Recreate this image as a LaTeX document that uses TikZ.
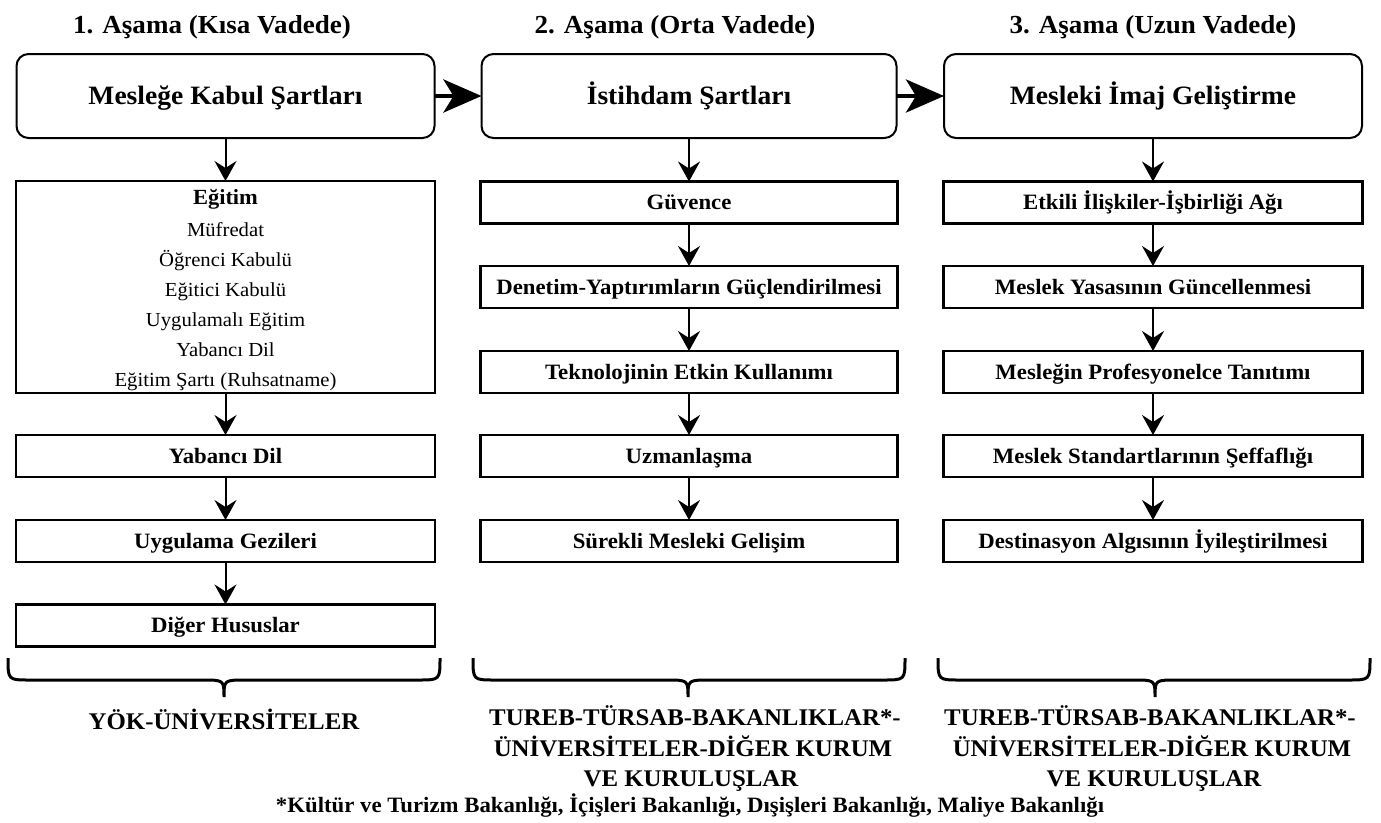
\documentclass[tikz,border=0pt]{standalone}
\usepackage{fontspec}
\setmainfont{Liberation Serif}[FakeStretch=1.04]
\usetikzlibrary{arrows.meta}
\begin{document}
\begin{tikzpicture}[x=1pt,y=-1pt,
  every node/.style={inner sep=0pt, outer sep=0pt},
  topbox/.style={draw, line width=2pt, rounded corners=12pt, minimum height=84pt,
    font=\bfseries\fontsize{26.5}{30}\selectfont, text height=17.5pt, text depth=0pt},
  itembox/.style={draw, line width=2.4pt, minimum height=42pt,
    font=\bfseries\fontsize{21.9}{25}\selectfont, text height=14.5pt, text depth=0pt},
  hdr/.style={font=\bfseries\fontsize{26}{30}\selectfont, anchor=base},
  lst/.style={font=\fontsize{19.9}{23}\selectfont, anchor=base},
  lsttitle/.style={font=\bfseries\fontsize{21.6}{25}\selectfont, anchor=base},
  lbl/.style={font=\bfseries\fontsize{23.9}{31}\selectfont, anchor=base},
  foot/.style={font=\bfseries\fontsize{21.9}{25}\selectfont, anchor=base},
  down/.style={-{Stealth[length=20pt,width=22pt,inset=7pt]}, line width=2pt},
  bigarrow/.style={-{Stealth[length=38pt,width=33pt,inset=10pt]}, line width=4.5pt},
  brc/.style={line width=3pt}
]
\useasboundingbox (0,0) rectangle (1381,822);

% headers
\node[hdr] (h1) at (212,33) {1. Aşama (Kısa Vadede)};
\node[hdr] (h2) at (675,33) {2. Aşama (Orta Vadede)};
\node[hdr] (h3) at (1153,33) {3. Aşama (Uzun Vadede)};

% top boxes
\node[topbox, minimum width=418pt] (t1) at (225.5,96) {Mesleğe Kabul Şartları};
\node[topbox, minimum width=415pt] (t2) at (689,96) {İstihdam Şartları};
\node[topbox, minimum width=418pt] (t3) at (1153,96) {Mesleki İmaj Geliştirme};

\draw[bigarrow] (t1) -- (t2);
\draw[bigarrow] (t2) -- (t3);

% column 1
\node[draw, line width=2.4pt, minimum width=419pt, minimum height=212pt] (edu) at (225.5,287) {};
\node[lsttitle] (e0) at (225.5,204) {Eğitim};
\node[lst] (e1) at (225.5,236) {Müfredat};
\node[lst] (e2) at (225.5,266) {Öğrenci Kabulü};
\node[lst] (e3) at (225.5,296) {Eğitici Kabulü};
\node[lst] (e4) at (225.5,326) {Uygulamalı Eğitim};
\node[lst] (e5) at (225.5,356) {Yabancı Dil};
\node[lst] (e6) at (225.5,386) {Eğitim Şartı (Ruhsatname)};

\node[itembox, minimum width=419pt] (a2) at (225.5,456) {Yabancı Dil};
\node[itembox, minimum width=419pt] (a3) at (225.5,541) {Uygulama Gezileri};
\node[itembox, minimum width=419pt] (a4) at (225.5,625.5) {Diğer Hususlar};

\draw[down] (t1) -- (edu);
\draw[down] (edu) -- (a2);
\draw[down] (a2) -- (a3);
\draw[down] (a3) -- (a4);

% column 2
\node[itembox, minimum width=417pt] (b1) at (689,202.5) {Güvence};
\node[itembox, minimum width=417pt] (b2) at (689,287) {Denetim-Yaptırımların Güçlendirilmesi};
\node[itembox, minimum width=417pt] (b3) at (689,372) {Teknolojinin Etkin Kullanımı};
\node[itembox, minimum width=417pt] (b4) at (689,456) {Uzmanlaşma};
\node[itembox, minimum width=417pt] (b5) at (689,541) {Sürekli Mesleki Gelişim};

\draw[down] (t2) -- (b1);
\draw[down] (b1) -- (b2);
\draw[down] (b2) -- (b3);
\draw[down] (b3) -- (b4);
\draw[down] (b4) -- (b5);

% column 3
\node[itembox, minimum width=419pt] (c1) at (1153,202.5) {Etkili İlişkiler-İşbirliği Ağı};
\node[itembox, minimum width=419pt] (c2) at (1153,287) {Meslek Yasasının Güncellenmesi};
\node[itembox, minimum width=419pt] (c3) at (1153,372) {Mesleğin Profesyonelce Tanıtımı};
\node[itembox, minimum width=419pt] (c4) at (1153,456) {Meslek Standartlarının Şeffaflığı};
\node[itembox, minimum width=419pt] (c5) at (1153,541) {Destinasyon Algısının İyileştirilmesi};

\draw[down] (t3) -- (c1);
\draw[down] (c1) -- (c2);
\draw[down] (c2) -- (c3);
\draw[down] (c3) -- (c4);
\draw[down] (c4) -- (c5);

% braces
\draw[brc] (8,658) .. controls (8,680) .. (30,680) -- (202,680)
  .. controls (224,680) .. (224,697) .. controls (224,680) .. (246,680)
  -- (418,680) .. controls (440,680) .. (440,658);
\draw[brc] (473,658) .. controls (473,680) .. (495,680) -- (666,680)
  .. controls (688,680) .. (688,697) .. controls (688,680) .. (710,680)
  -- (883,680) .. controls (905,680) .. (905,658);
\draw[brc] (938,658) .. controls (938,680) .. (960,680) -- (1133,680)
  .. controls (1155,680) .. (1155,697) .. controls (1155,680) .. (1177,680)
  -- (1348,680) .. controls (1370,680) .. (1370,658);

% labels
\node[lbl] (l1) at (224,729) {YÖK-ÜNİVERSİTELER};
\node[lbl] (l2a) at (695,725) {TUREB-TÜRSAB-BAKANLIKLAR*-};
\node[lbl] (l2b) at (693,756) {ÜNİVERSİTELER-DİĞER KURUM};
\node[lbl] (l2c) at (691,786) {VE KURULUŞLAR};
\node[lbl] (l3a) at (1150,725) {TUREB-TÜRSAB-BAKANLIKLAR*-};
\node[lbl] (l3b) at (1152,756) {ÜNİVERSİTELER-DİĞER KURUM};
\node[lbl] (l3c) at (1154,786) {VE KURULUŞLAR};

\node[foot] (fn) at (690,812) {*Kültür ve Turizm Bakanlığı, İçişleri Bakanlığı, Dışişleri Bakanlığı, Maliye Bakanlığı};
\end{tikzpicture}
\end{document}
